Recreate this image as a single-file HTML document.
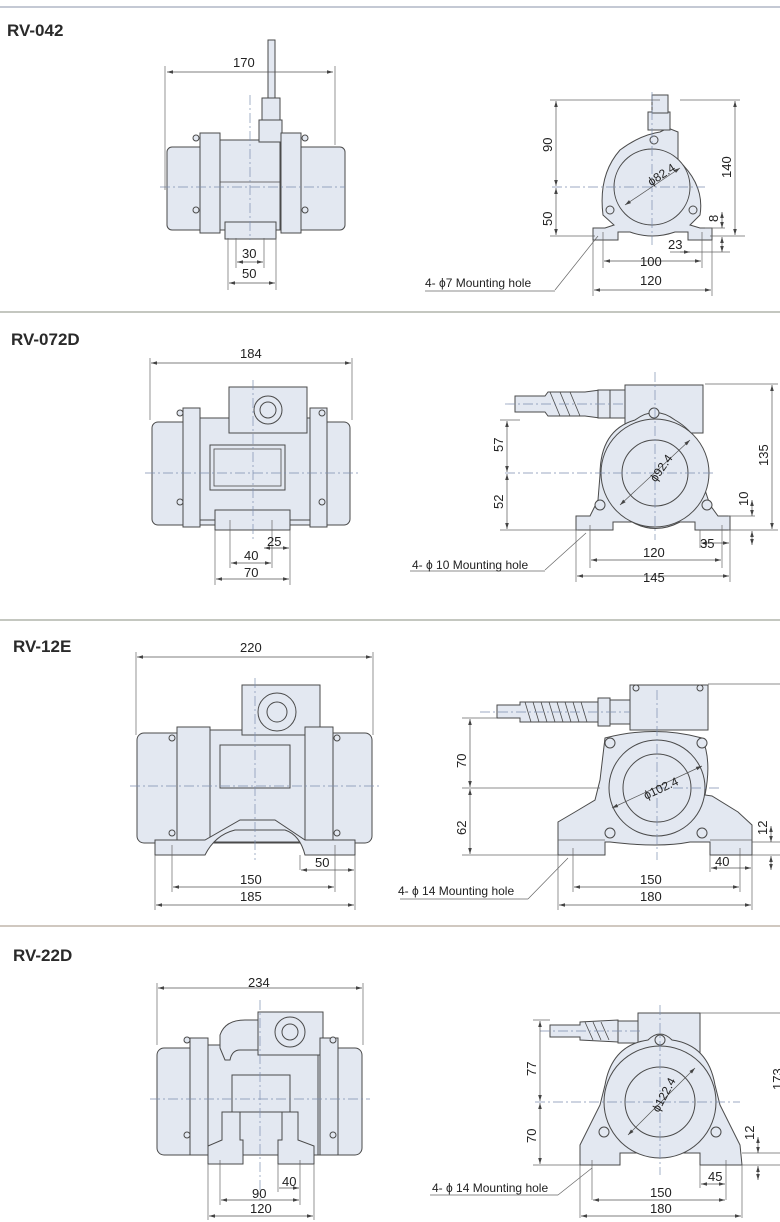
<!DOCTYPE html>
<html><head><meta charset="utf-8"><style>
html,body{margin:0;padding:0;background:#fff}
svg{display:block}
.b{fill:#e3e8f1;stroke:#4a4a4a;stroke-width:1}
.l{fill:none;stroke:#4a4a4a;stroke-width:0.8}
.d{fill:none;stroke:#666;stroke-width:0.7}
.dm{fill:none;stroke:#555;stroke-width:0.7;marker-start:url(#a);marker-end:url(#a)}
.c{fill:none;stroke:#7d8fb0;stroke-width:0.7;stroke-dasharray:10 3 2 3}
text{font-family:"Liberation Sans",sans-serif;font-size:13px;fill:#222}
.t{font-size:17px;font-weight:bold;fill:#2a2a2a}
.s{font-size:12px}
</style></head><body>
<svg width="780" height="1222" viewBox="0 0 780 1222" xmlns="http://www.w3.org/2000/svg">
<defs><marker id="a" viewBox="0 0 10 10" refX="10" refY="5" markerWidth="8" markerHeight="6" orient="auto-start-reverse" markerUnits="userSpaceOnUse"><path d="M0,2 L10,5 L0,8z" fill="#444"/></marker></defs>

<line x1="0" y1="7" x2="780" y2="7" stroke="#8a93a8" stroke-width="1"/>
<line x1="0" y1="312" x2="780" y2="312" stroke="#8a8f80" stroke-width="1"/>
<line x1="0" y1="620" x2="780" y2="620" stroke="#8a8f80" stroke-width="1"/>
<line x1="0" y1="926" x2="780" y2="926" stroke="#a09080" stroke-width="1"/>

<text class="t" x="7" y="36">RV-042</text>
<text class="t" x="11" y="345">RV-072D</text>
<text class="t" x="13" y="652">RV-12E</text>
<text class="t" x="13" y="961">RV-22D</text>

<!-- RV-042 front -->
<rect class="b" x="167" y="147" width="178" height="83" rx="5"/>
<rect class="b" x="220" y="140" width="60" height="90"/>
<rect class="b" x="259" y="120" width="23" height="22"/>
<rect class="b" x="262" y="98" width="18" height="22"/>
<rect class="b" x="268" y="40" width="7" height="58"/>
<rect class="b" x="200" y="133" width="20" height="100"/>
<rect class="b" x="281" y="133" width="20" height="100"/>
<rect class="b" x="225" y="222" width="51" height="17"/>
<line class="l" x1="220" y1="182" x2="280" y2="182"/>
<circle class="b" cx="196" cy="138" r="3"/><circle class="b" cx="305" cy="138" r="3"/>
<circle class="b" cx="196" cy="210" r="3"/><circle class="b" cx="305" cy="210" r="3"/>
<line class="c" x1="160" y1="187" x2="345" y2="187"/>
<line class="c" x1="250" y1="95" x2="250" y2="240"/>
<line class="d" x1="165" y1="66" x2="165" y2="190"/><line class="d" x1="335" y1="66" x2="335" y2="145"/>
<line class="dm" x1="167" y1="72" x2="333" y2="72"/><text x="233" y="67">170</text>
<line class="d" x1="228" y1="238" x2="228" y2="290"/><line class="d" x1="276" y1="238" x2="276" y2="290"/>
<line class="d" x1="236" y1="238" x2="236" y2="268"/><line class="d" x1="264" y1="238" x2="264" y2="268"/>
<line class="dm" x1="237" y1="262" x2="263" y2="262"/><text x="242" y="258">30</text>
<line class="dm" x1="229" y1="283" x2="275" y2="283"/><text x="242" y="278">50</text>

<!-- RV-042 side -->
<path class="b" d="M620,150 Q640,135 660,132 L668,128 L678,132 L678,160 Q705,185 700,215 L690,225 L700,228 L712,228 L712,240 L688,240 L688,232 L675,232 Q652,240 630,232 L618,232 L618,240 L593,240 L593,228 L605,228 L614,225 L603,215 Q598,175 620,150 Z"/>
<circle class="b" cx="652" cy="187" r="38"/>
<rect class="b" x="648" y="112" width="22" height="18"/>
<rect class="b" x="652" y="95" width="16" height="18"/>
<circle class="b" cx="654" cy="140" r="4"/><circle class="b" cx="610" cy="210" r="4"/><circle class="b" cx="693" cy="210" r="4"/>
<line class="c" x1="552" y1="187" x2="705" y2="187"/><line class="c" x1="652" y1="92" x2="652" y2="245"/>
<line class="dm" x1="625" y1="205" x2="680" y2="168"/><text class="s" x="648" y="180" transform="rotate(-33 660 178)">ϕ82.4</text>
<line class="d" x1="550" y1="100" x2="660" y2="100"/><line class="d" x1="680" y1="100" x2="740" y2="100"/>
<line class="d" x1="550" y1="236" x2="595" y2="236"/><line class="d" x1="710" y1="236" x2="745" y2="236"/>
<line class="dm" x1="556" y1="101" x2="556" y2="186"/><line class="dm" x1="556" y1="188" x2="556" y2="235"/>
<text x="552" y="152" transform="rotate(-90 552 152)">90</text>
<text x="552" y="226" transform="rotate(-90 552 226)">50</text>
<line class="dm" x1="735" y1="101" x2="735" y2="235"/><text x="731" y="178" transform="rotate(-90 731 178)">140</text>
<line class="d" x1="705" y1="228" x2="725" y2="228"/>
<line class="dm" x1="722" y1="212" x2="722" y2="228"/><line class="dm" x1="722" y1="252" x2="722" y2="237"/>
<text x="718" y="222" transform="rotate(-90 718 222)">8</text>
<line class="d" x1="603" y1="232" x2="603" y2="268"/><line class="d" x1="702" y1="232" x2="702" y2="268"/>
<line class="d" x1="593" y1="240" x2="593" y2="296"/><line class="d" x1="712" y1="240" x2="712" y2="296"/>
<line class="d" x1="670" y1="252" x2="730" y2="252"/>
<line class="dm" x1="680" y1="252" x2="690" y2="252" style="marker-start:none"/><text x="668" y="249">23</text>
<line class="dm" x1="604" y1="261" x2="701" y2="261"/><text x="640" y="266">100</text>
<line class="dm" x1="594" y1="290" x2="711" y2="290"/><text x="640" y="285">120</text>
<line class="d" x1="555" y1="290" x2="598" y2="236"/><line class="d" x1="425" y1="291" x2="555" y2="291"/>
<text class="s" x="425" y="287">4- ϕ7 Mounting hole</text>

<!-- RV-072D front -->
<rect class="b" x="152" y="422" width="198" height="103" rx="6"/>
<rect class="b" x="200" y="418" width="110" height="102"/>
<rect class="b" x="229" y="387" width="78" height="46"/>
<circle class="b" cx="268" cy="410" r="14"/><circle class="b" cx="268" cy="410" r="8"/>
<rect class="b" x="210" y="445" width="75" height="45"/><rect class="l" x="214" y="449" width="67" height="37"/>
<rect class="b" x="183" y="408" width="17" height="119"/><rect class="b" x="310" y="408" width="17" height="119"/>
<rect class="b" x="215" y="510" width="75" height="20"/>
<circle class="b" cx="180" cy="413" r="3"/><circle class="b" cx="322" cy="413" r="3"/>
<circle class="b" cx="180" cy="502" r="3"/><circle class="b" cx="322" cy="502" r="3"/>
<line class="c" x1="145" y1="473" x2="360" y2="473"/><line class="c" x1="253" y1="380" x2="253" y2="540"/>
<line class="d" x1="150" y1="358" x2="150" y2="420"/><line class="d" x1="352" y1="358" x2="352" y2="420"/>
<line class="dm" x1="151" y1="363" x2="351" y2="363"/><text x="240" y="358">184</text>
<line class="d" x1="215" y1="530" x2="215" y2="585"/><line class="d" x1="290" y1="530" x2="290" y2="585"/>
<line class="d" x1="230" y1="520" x2="230" y2="568"/><line class="d" x1="272" y1="520" x2="272" y2="568"/>
<line class="dm" x1="264" y1="548" x2="289" y2="548"/><text x="267" y="546">25</text>
<line class="dm" x1="231" y1="563" x2="271" y2="563"/><text x="244" y="560">40</text>
<line class="dm" x1="216" y1="579" x2="289" y2="579"/><text x="244" y="577">70</text>

<!-- RV-072D side -->
<rect class="b" x="625" y="385" width="78" height="48"/>
<path class="b" d="M515,396 L545,396 L548,392 L585,392 L600,390 L625,390 L625,418 L600,418 L585,416 L548,416 L545,412 L515,412 Z"/>
<path class="l" d="M550,392 L560,416 M560,392 L570,416 M570,392 L580,416"/>
<rect class="b" x="598" y="390" width="12" height="28"/>
<path class="b" d="M600,475 Q600,430 635,420 Q655,405 675,420 Q710,440 705,490 L710,505 L718,516 L730,516 L730,530 L695,530 L695,522 L680,522 Q655,535 632,522 L613,522 L613,530 L576,530 L576,516 L590,516 L598,500 Z"/>
<circle class="b" cx="655" cy="473" r="54"/>
<circle class="b" cx="655" cy="473" r="33"/>
<circle class="b" cx="654" cy="413" r="5"/><circle class="b" cx="600" cy="505" r="5"/><circle class="b" cx="707" cy="505" r="5"/>
<line class="c" x1="505" y1="473" x2="715" y2="473"/><line class="c" x1="655" y1="372" x2="655" y2="540"/>
<line class="c" x1="505" y1="404" x2="625" y2="404"/>
<line class="dm" x1="620" y1="505" x2="690" y2="440"/><text class="s" x="645" y="478" transform="rotate(-55 655 470)">ϕ92.4</text>
<line class="d" x1="500" y1="420" x2="520" y2="420"/><line class="d" x1="500" y1="530" x2="578" y2="530"/>
<line class="d" x1="705" y1="384" x2="778" y2="384"/><line class="d" x1="728" y1="530" x2="778" y2="530"/>
<line class="dm" x1="507" y1="421" x2="507" y2="472"/><line class="dm" x1="507" y1="474" x2="507" y2="529"/>
<text x="503" y="452" transform="rotate(-90 503 452)">57</text>
<text x="503" y="509" transform="rotate(-90 503 509)">52</text>
<line class="dm" x1="772" y1="385" x2="772" y2="529"/><text x="768" y="466" transform="rotate(-90 768 466)">135</text>
<line class="d" x1="728" y1="516" x2="755" y2="516"/>
<line class="dm" x1="752" y1="500" x2="752" y2="516"/><line class="dm" x1="752" y1="545" x2="752" y2="531"/>
<text x="748" y="506" transform="rotate(-90 748 506)">10</text>
<line class="d" x1="590" y1="525" x2="590" y2="568"/><line class="d" x1="722" y1="525" x2="722" y2="568"/>
<line class="d" x1="576" y1="530" x2="576" y2="582"/><line class="d" x1="730" y1="530" x2="730" y2="582"/>
<line class="d" x1="700" y1="530" x2="700" y2="548"/>
<line class="dm" x1="701" y1="543" x2="729" y2="543"/><text x="700" y="548">35</text>
<line class="dm" x1="591" y1="560" x2="721" y2="560"/><text x="643" y="557">120</text>
<line class="dm" x1="577" y1="576" x2="729" y2="576"/><text x="643" y="582">145</text>
<line class="d" x1="545" y1="570" x2="586" y2="533"/><line class="d" x1="410" y1="571" x2="545" y2="571"/>
<text class="s" x="412" y="569">4- ϕ 10  Mounting hole</text>

<!-- RV-12E front -->
<rect class="b" x="137" y="733" width="235" height="110" rx="7"/>
<rect class="b" x="210" y="730" width="95" height="112"/>
<rect class="b" x="242" y="685" width="78" height="50"/>
<circle class="b" cx="277" cy="712" r="19"/><circle class="b" cx="277" cy="712" r="10"/>
<rect class="b" x="220" y="745" width="70" height="43"/>
<rect class="b" x="177" y="727" width="33" height="115"/><rect class="b" x="305" y="727" width="28" height="115"/>
<path class="b" d="M155,840 L155,855 L205,855 Q215,835 235,830 L285,830 Q300,835 305,855 L355,855 L355,840 L305,840 L275,820 L240,820 L205,840 Z"/>
<circle class="b" cx="172" cy="738" r="3"/><circle class="b" cx="337" cy="738" r="3"/>
<circle class="b" cx="172" cy="833" r="3"/><circle class="b" cx="337" cy="833" r="3"/>
<line class="c" x1="130" y1="786" x2="380" y2="786"/><line class="c" x1="255" y1="678" x2="255" y2="860"/>
<line class="d" x1="136" y1="652" x2="136" y2="735"/><line class="d" x1="373" y1="652" x2="373" y2="735"/>
<line class="dm" x1="137" y1="657" x2="372" y2="657"/><text x="240" y="652">220</text>
<line class="d" x1="155" y1="855" x2="155" y2="910"/><line class="d" x1="355" y1="855" x2="355" y2="910"/>
<line class="d" x1="172" y1="845" x2="172" y2="892"/><line class="d" x1="335" y1="845" x2="335" y2="892"/>
<line class="d" x1="300" y1="855" x2="300" y2="870"/>
<line class="dm" x1="301" y1="870" x2="354" y2="870"/><text x="315" y="867">50</text>
<line class="dm" x1="173" y1="887" x2="334" y2="887"/><text x="240" y="884">150</text>
<line class="dm" x1="156" y1="905" x2="354" y2="905"/><text x="240" y="901">185</text>

<!-- RV-12E side -->
<rect class="b" x="630" y="685" width="78" height="45"/>
<circle class="b" cx="636" cy="688" r="3"/><circle class="b" cx="700" cy="688" r="3"/>
<path class="b" d="M497,705 L520,705 L520,702 L598,702 L598,722 L520,722 L520,718 L497,718 Z"/>
<path class="l" d="M525,702 L531,722 M533,702 L539,722 M541,702 L547,722 M549,702 L555,722 M557,702 L563,722 M565,702 L571,722 M573,702 L579,722 M581,702 L587,722"/>
<rect class="b" x="598" y="698" width="12" height="28"/><rect class="b" x="610" y="700" width="20" height="24"/>
<line class="d" x1="708" y1="684" x2="780" y2="684"/>
<path class="b" d="M605,738 Q655,725 702,738 Q712,760 705,795 L712,796 L738,812 L752,825 L752,855 L710,855 L710,842 L690,842 Q660,848 610,842 L605,842 L605,855 L558,855 L558,822 L575,812 L595,800 L600,780 Z"/>
<circle class="b" cx="657" cy="788" r="48"/>
<circle class="b" cx="657" cy="788" r="34"/>
<circle class="b" cx="610" cy="743" r="5"/><circle class="b" cx="702" cy="743" r="5"/>
<circle class="b" cx="610" cy="833" r="5"/><circle class="b" cx="702" cy="833" r="5"/>
<line class="d" x1="558" y1="840" x2="605" y2="840"/><line class="d" x1="710" y1="840" x2="752" y2="840"/>
<line class="c" x1="480" y1="712" x2="630" y2="712"/><line class="c" x1="655" y1="788" x2="720" y2="788"/>
<line class="c" x1="657" y1="690" x2="657" y2="860"/>
<line class="dm" x1="612" y1="808" x2="702" y2="766"/><text class="s" x="642" y="794" transform="rotate(-25 657 788)">ϕ102.4</text>
<line class="d" x1="462" y1="718" x2="497" y2="718"/><line class="d" x1="462" y1="788" x2="600" y2="788"/><line class="d" x1="462" y1="855" x2="558" y2="855"/>
<line class="dm" x1="470" y1="719" x2="470" y2="787"/><line class="dm" x1="470" y1="789" x2="470" y2="854"/>
<text x="466" y="768" transform="rotate(-90 466 768)">70</text>
<text x="466" y="835" transform="rotate(-90 466 835)">62</text>
<line class="d" x1="752" y1="842" x2="780" y2="842"/><line class="d" x1="752" y1="855" x2="780" y2="855"/>
<line class="dm" x1="771" y1="826" x2="771" y2="842"/><line class="dm" x1="771" y1="870" x2="771" y2="856"/>
<text x="767" y="835" transform="rotate(-90 767 835)">12</text>
<line class="d" x1="573" y1="848" x2="573" y2="892"/><line class="d" x1="740" y1="848" x2="740" y2="892"/>
<line class="d" x1="558" y1="855" x2="558" y2="910"/><line class="d" x1="752" y1="855" x2="752" y2="910"/>
<line class="d" x1="710" y1="855" x2="710" y2="872"/>
<line class="dm" x1="711" y1="868" x2="751" y2="868"/><text x="715" y="866">40</text>
<line class="dm" x1="574" y1="887" x2="739" y2="887"/><text x="640" y="884">150</text>
<line class="dm" x1="559" y1="905" x2="751" y2="905"/><text x="640" y="901">180</text>
<line class="d" x1="528" y1="899" x2="568" y2="858"/><line class="d" x1="400" y1="899" x2="528" y2="899"/>
<text class="s" x="398" y="895">4- ϕ 14  Mounting hole</text>

<!-- RV-22D front -->
<rect class="b" x="157" y="1048" width="205" height="107" rx="7"/>
<rect class="b" x="208" y="1045" width="110" height="110"/>
<path class="b" d="M220,1048 L220,1035 Q225,1020 245,1020 L258,1020 L258,1050 L240,1050 Q232,1050 230,1060 L225,1060 Z"/>
<rect class="b" x="258" y="1012" width="65" height="43"/>
<circle class="b" cx="290" cy="1032" r="15"/><circle class="b" cx="290" cy="1032" r="8"/>
<rect class="b" x="232" y="1075" width="58" height="37"/>
<rect class="b" x="190" y="1038" width="18" height="117"/><rect class="b" x="320" y="1038" width="18" height="117"/>
<path class="b" d="M208,1164 L208,1146 L222,1140 L222,1112 L240,1112 L240,1140 L243,1140 L243,1164 Z"/>
<path class="b" d="M278,1164 L278,1140 L282,1140 L282,1112 L298,1112 L298,1140 L314,1146 L314,1164 Z"/>
<circle class="b" cx="187" cy="1040" r="3"/><circle class="b" cx="333" cy="1040" r="3"/>
<circle class="b" cx="187" cy="1135" r="3"/><circle class="b" cx="333" cy="1135" r="3"/>
<line class="c" x1="150" y1="1099" x2="370" y2="1099"/><line class="c" x1="260" y1="1000" x2="260" y2="1200"/>
<line class="d" x1="157" y1="983" x2="157" y2="1045"/><line class="d" x1="363" y1="983" x2="363" y2="1045"/>
<line class="dm" x1="158" y1="988" x2="362" y2="988"/><text x="248" y="987">234</text>
<line class="d" x1="208" y1="1164" x2="208" y2="1220"/><line class="d" x1="314" y1="1164" x2="314" y2="1220"/>
<line class="d" x1="220" y1="1160" x2="220" y2="1205"/><line class="d" x1="300" y1="1160" x2="300" y2="1205"/>
<line class="d" x1="278" y1="1164" x2="278" y2="1192"/>
<line class="dm" x1="279" y1="1188" x2="299" y2="1188" style="marker-start:none"/><text x="282" y="1186">40</text>
<line class="dm" x1="221" y1="1200" x2="299" y2="1200"/><text x="252" y="1198">90</text>
<line class="dm" x1="209" y1="1216" x2="313" y2="1216"/><text x="250" y="1213">120</text>

<!-- RV-22D side -->
<rect class="b" x="638" y="1013" width="62" height="40"/>
<path class="b" d="M550,1025 L580,1025 L580,1022 L618,1020 L618,1042 L580,1040 L580,1037 L550,1037 Z"/>
<path class="l" d="M585,1022 L593,1040 M593,1022 L601,1040 M601,1022 L609,1040"/>
<rect class="b" x="618" y="1021" width="20" height="22"/>
<line class="d" x1="700" y1="1013" x2="780" y2="1013"/>
<path class="b" d="M605,1085 Q612,1045 648,1040 Q660,1028 672,1040 Q708,1045 715,1085 L720,1105 L740,1145 L742,1165 L700,1165 L700,1153 L682,1153 Q660,1162 638,1153 L620,1153 L620,1165 L580,1165 L580,1145 L600,1105 Z"/>
<circle class="b" cx="660" cy="1102" r="56"/>
<circle class="b" cx="660" cy="1102" r="35"/>
<circle class="b" cx="660" cy="1040" r="5"/><circle class="b" cx="604" cy="1132" r="5"/><circle class="b" cx="716" cy="1132" r="5"/>
<line class="c" x1="535" y1="1102" x2="740" y2="1102"/><line class="c" x1="660" y1="1005" x2="660" y2="1175"/>
<line class="c" x1="540" y1="1031" x2="640" y2="1031"/>
<line class="dm" x1="628" y1="1135" x2="695" y2="1068"/><text class="s" x="648" y="1105" transform="rotate(-62 660 1100)">ϕ122.4</text>
<line class="d" x1="533" y1="1020" x2="550" y2="1020"/><line class="d" x1="533" y1="1165" x2="580" y2="1165"/>
<line class="dm" x1="540" y1="1021" x2="540" y2="1101"/><line class="dm" x1="540" y1="1103" x2="540" y2="1164"/>
<text x="536" y="1076" transform="rotate(-90 536 1076)">77</text>
<text x="536" y="1143" transform="rotate(-90 536 1143)">70</text>
<text x="782" y="1090" transform="rotate(-90 782 1090)">173</text>
<line class="d" x1="742" y1="1153" x2="780" y2="1153"/><line class="d" x1="742" y1="1165" x2="780" y2="1165"/>
<line class="dm" x1="758" y1="1137" x2="758" y2="1153"/><line class="dm" x1="758" y1="1180" x2="758" y2="1166"/>
<text x="754" y="1140" transform="rotate(-90 754 1140)">12</text>
<line class="d" x1="592" y1="1160" x2="592" y2="1200"/><line class="d" x1="726" y1="1160" x2="726" y2="1200"/>
<line class="d" x1="580" y1="1165" x2="580" y2="1218"/><line class="d" x1="742" y1="1165" x2="742" y2="1218"/>
<line class="d" x1="700" y1="1165" x2="700" y2="1188"/>
<line class="dm" x1="701" y1="1184" x2="725" y2="1184"/><text x="708" y="1181">45</text>
<line class="dm" x1="593" y1="1200" x2="725" y2="1200"/><text x="650" y="1197">150</text>
<line class="dm" x1="581" y1="1216" x2="741" y2="1216"/><text x="650" y="1213">180</text>
<line class="d" x1="558" y1="1195" x2="592" y2="1168"/><line class="d" x1="430" y1="1195" x2="558" y2="1195"/>
<text class="s" x="432" y="1192">4- ϕ 14  Mounting hole</text>
</svg>
</body></html>
